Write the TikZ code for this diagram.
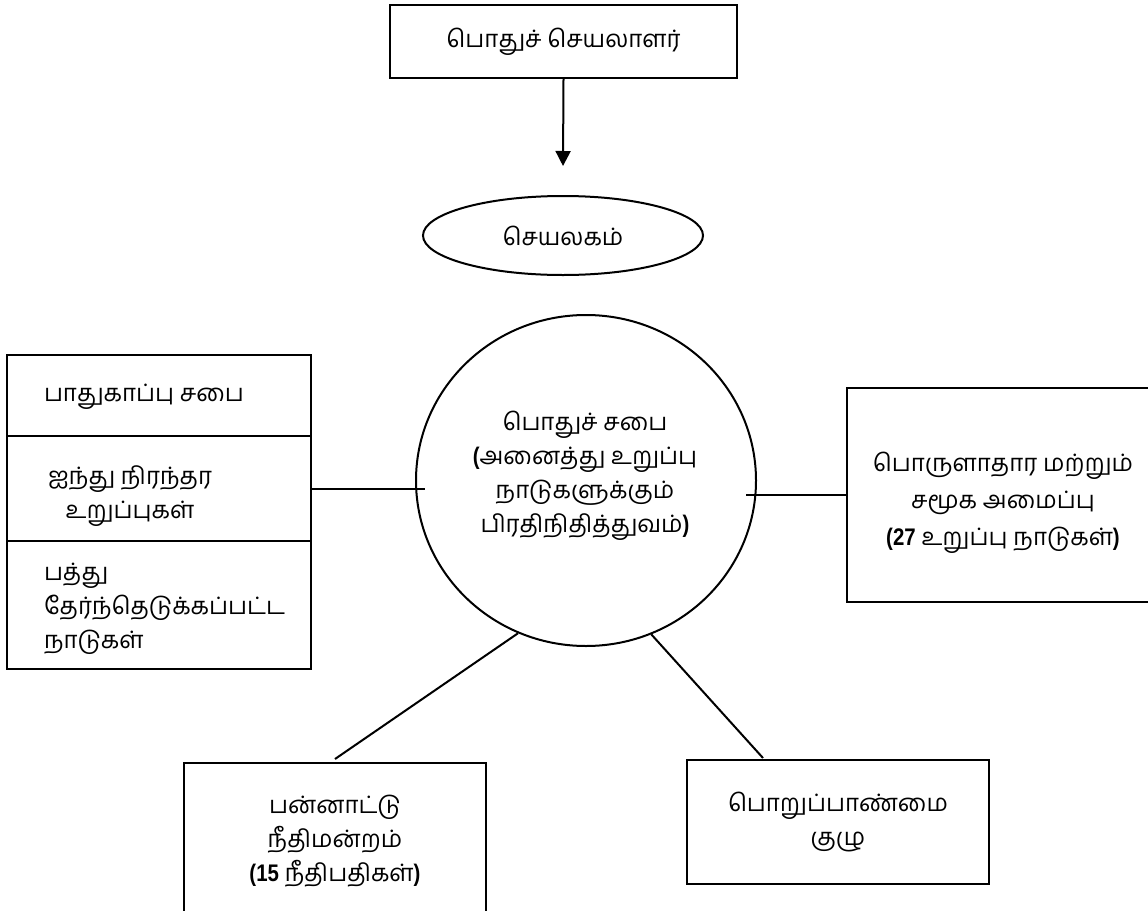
\documentclass[tikz,border=0pt]{standalone}
\usepackage{fontspec}
\setmainfont[Script=Tamil]{Hind Madurai}
\newfontfamily\pbfont{Liberation Sans}[FakeStretch=0.85]
\usetikzlibrary{shapes.geometric,arrows.meta}
\newcommand\pbx[1]{{\pbfont\bfseries #1}}
\begin{document}
\begin{tikzpicture}[x=1pt,y=-1pt,line width=2pt,
  box/.style={draw,rectangle,inner sep=0pt},
  oval/.style={draw,ellipse,inner sep=0pt},
  txt/.style={align=center,inner sep=0pt,font=\fontsize{24}{34}\selectfont},
  conn/.style={line width=2pt}]
\clip (0,0) rectangle (1148,910);
\fill[white] (0,0) rectangle (1148,910);
% top
\node[box,txt,minimum width=347pt,minimum height=73pt] (sg) at (563.5,41.5) {பொதுச் செயலாளர்};
\node[oval,txt,minimum width=280pt,minimum height=79pt] (sec) at (563,235.5) {செயலகம்};
% centre
\node[oval,minimum width=340pt,minimum height=331pt] (ga) at (586,480.5) {};
\node[txt] (gat) at (585,476) {பொதுச் சபை\\\pbx{(}அனைத்து உறுப்பு\\நாடுகளுக்கும்\\பிரதிநிதித்துவம்\pbx{)}};
% left stack
\node[box,minimum width=304pt,minimum height=81pt] (lb1) at (159,395.5) {};
\node[box,minimum width=304pt,minimum height=105pt] (lb2) at (159,488.5) {};
\node[box,minimum width=304pt,minimum height=128pt] (lb3) at (159,605) {};
\node[txt,anchor=west] (lt1) at (43,397) {பாதுகாப்பு சபை};
\node[txt] (lt2) at (130,496) {ஐந்து நிரந்தர\\உறுப்புகள்};
\node[txt,align=left,anchor=west] (lt3) at (43,609) {பத்து\\தேர்ந்தெடுக்கப்பட்ட\\நாடுகள்};
% right
\node[box,minimum width=313pt,minimum height=214pt] (rb) at (1003.5,495) {};
\node[txt,font=\fontsize{24}{37}\selectfont] (rt) at (1003,503) {பொருளாதார மற்றும்\\சமூக அமைப்பு\\\pbx{(27} உறுப்பு நாடுகள்\pbx{)}};
% bottom
\node[box,minimum width=302pt,minimum height=167pt] (bl) at (335,846.5) {};
\node[txt] (blt) at (335,841) {பன்னாட்டு\\நீதிமன்றம்\\\pbx{(15} நீதிபதிகள்\pbx{)}};
\node[box,txt,minimum width=302pt,minimum height=124pt] (br) at (838,822) {பொறுப்பாண்மை\\குழு};
% connectors
\draw[conn,-{Triangle[width=15pt,length=15pt]}] (sg.south) -- ([yshift=29pt]sec.north);
\draw[conn] (lb2.east) -- ([xshift=10pt]lb2.east -| ga.west);
\draw[conn] ([xshift=-11pt]rb.west -| ga.east) -- (rb.west);
\draw[conn] (ga.246) -- ([yshift=3pt]bl.north);
\draw[conn] (ga.293) -- ([xshift=77pt,yshift=1pt]br.north west);
\end{tikzpicture}
\end{document}
